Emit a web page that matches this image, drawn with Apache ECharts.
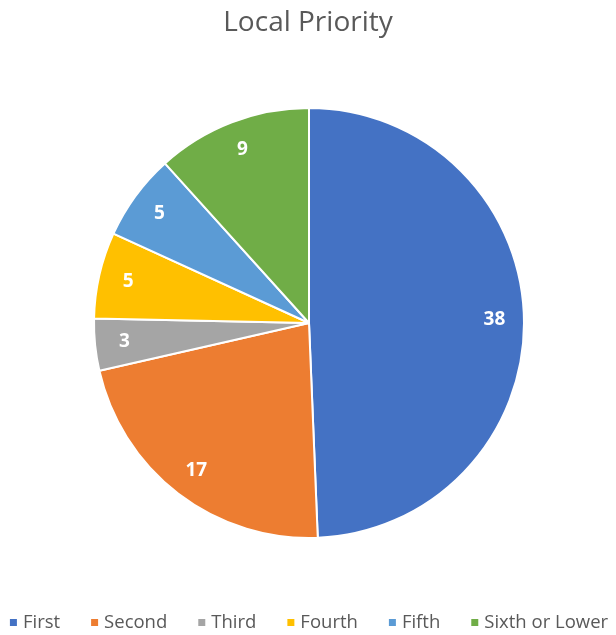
<!DOCTYPE html>
<html><head><meta charset="utf-8">
<script src="https://cdn.jsdelivr.net/npm/echarts@6/dist/echarts.min.js"></script>
<style>html,body{margin:0;padding:0;background:#fff}#c{width:616px;height:635px}</style>
</head><body><div id="c"></div>
<script>
const categories = ['First', 'Second', 'Third', 'Fourth', 'Fifth', 'Sixth or Lower'];
const values = [38, 17, 3, 5, 5, 9];
const colors = ['#4472C4', '#ED7D31', '#A5A5A5', '#FFC000', '#5B9BD5', '#70AD47'];
const data = categories.map((n, i) => ({ name: n, value: values[i] }));
const font = '"Open Sans", sans-serif';
const chart = echarts.init(document.getElementById('c'));
chart.setOption({
  color: colors,
  animation: false,
  title: { text: 'Local Priority', left: 'center', top: 4,
    textStyle: { fontFamily: font, fontSize: 28, fontWeight: 'normal', color: '#595959' } },
  legend: { bottom: -2, left: 'center', icon: 'rect', itemWidth: 9, itemHeight: 9, itemGap: 29,
    textStyle: { fontFamily: font, fontSize: 18.5, color: '#595959' }, data: categories },
  series: [
    { type: 'pie', center: [309, 323], radius: [0, 215], startAngle: 90, clockwise: true,
      data: data, label: { show: false }, labelLine: { show: false },
      itemStyle: { borderColor: '#fff', borderWidth: 2 }, silent: true },
    { type: 'pie', center: [309, 323], radius: [150, 215], startAngle: 90, clockwise: true,
      data: data, silent: true, legendHoverLink: false,
      itemStyle: { color: 'rgba(0,0,0,0)' },
      label: { show: true, position: 'inside', formatter: '{c}', color: '#fff',
        fontFamily: font, fontSize: 19, fontWeight: 'bold' }, labelLine: { show: false } }
  ]
});
</script></body></html>
